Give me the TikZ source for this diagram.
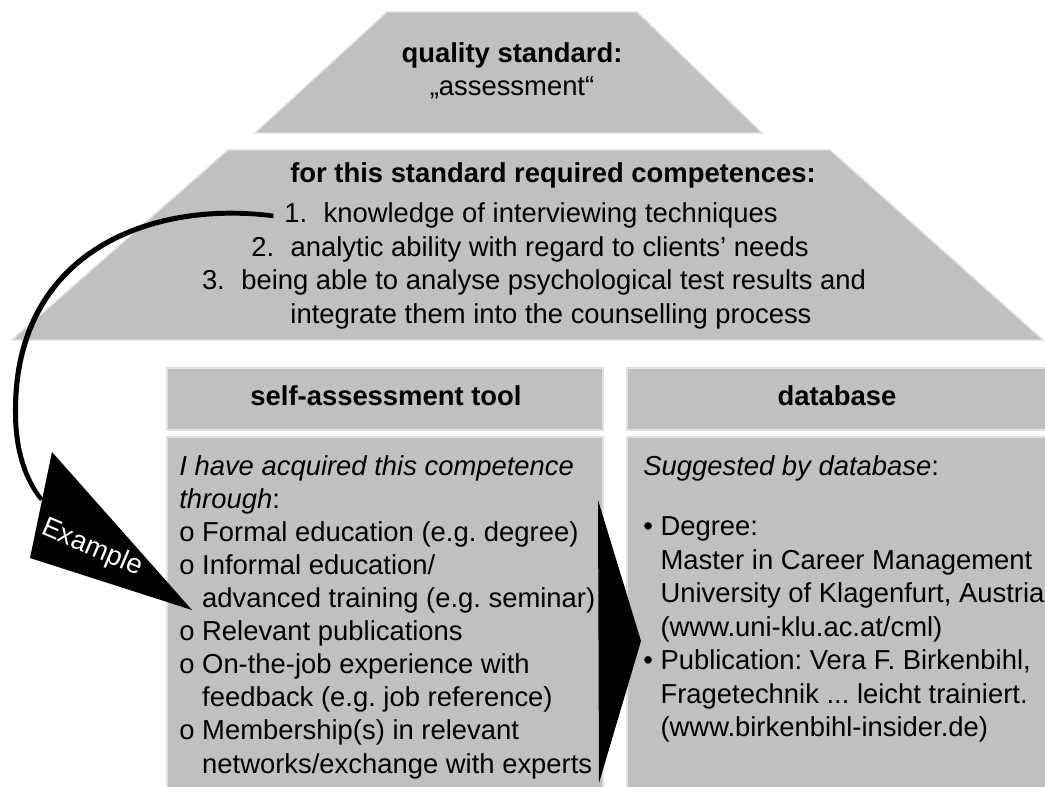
\documentclass[tikz,border=0pt]{standalone}
\usepackage{fontspec}
\setmainfont{Liberation Sans}
\usetikzlibrary{positioning}
\definecolor{silver}{RGB}{192, 192, 192}
\definecolor{cloud}{RGB}{224, 224, 224}
\newcommand{\diagfont}{\fontsize{15.6pt}{18.8pt}\selectfont\frenchspacing}

\begin{document}
\begin{tikzpicture}[x=0.02cm, y=-0.02cm,
        panel/.style={fill=silver, draw=cloud, line width=0.8pt},
        txt/.style={inner sep=0pt, font=\diagfont},
        hdr/.style={inner sep=0pt, font=\diagfont\bfseries}]
    \clip (0,0) rectangle (1045,787);
    \fill[white] (0,0) rectangle (1045,787);
    % roof: standard and competences
    \filldraw[panel] (387, 12) -- (637, 12) -- ( 762,133) -- (255,133) -- cycle;
    \filldraw[panel] (228,150) -- (830,150) -- (1043,340) -- ( 12,340) -- cycle;
    % pillars: tool and database
    \filldraw[panel] (167,368) rectangle ( 603,430);
    \filldraw[panel] (627,368) rectangle (1060,430);
    \filldraw[panel] (167,437) rectangle ( 603,800);
    \filldraw[panel] (627,437) rectangle (1060,800);

    \node[hdr, anchor=base] (qtitle) at (512, 63) {quality standard:};
    \node[txt, anchor=base] (qname)  at (512, 96) {„assessment“};

    \node[hdr, anchor=base] (ctitle) at (553,183) {for this standard required competences:};
    \node[txt, anchor=base] (comp1)  at (531,223) {1.\hspace{0.6em}knowledge of interviewing techniques};
    \node[txt, anchor=base] (comp2)  at (530,257) {2.\hspace{0.6em}analytic ability with regard to clients' needs};
    \node[txt, anchor=base] (comp3)  at (534,290) {3.\hspace{0.6em}being able to analyse psychological test results and};
    \node[txt, anchor=base] (comp4)  at (551,323) {integrate them into the counselling process};

    \node[hdr, anchor=base] (toolhdr) at (386,405) {self-assessment tool};
    \node[hdr, anchor=base] (dbhdr)   at (837,405) {database};

    \foreach \itm [count=\i] in {
            {\textit{I have acquired this competence}},
            {\textit{through}:},
            {o Formal education (e.g. degree)},
            {o Informal education/},
            {\hphantom{o }advanced training (e.g. seminar)},
            {o Relevant publications},
            {o On-the-job experience with},
            {\hphantom{o }feedback (e.g. job reference)},
            {o Membership(s) in relevant},
            {\hphantom{o }networks/exchange with experts}}
        \node[txt, anchor=base west] (tool\i) at (179, 442+33.1*\i) {\itm};

    \node[txt, anchor=base west] (dbintro) at (643,475) {\textit{Suggested by database}:};
    \foreach \itm [count=\i] in {
            {• Degree:},
            {\hphantom{• }Master in Career Management},
            {\hphantom{• }University of Klagenfurt, Austria},
            {\hphantom{• }(www.uni-klu.ac.at/cml)},
            {• Publication: Vera F. Birkenbihl,},
            {\hphantom{• }Fragetechnik .{}.{}. leicht trainiert.},
            {\hphantom{• }(www.birkenbihl-insider.de)}}
        \node[txt, anchor=base west] (db\i) at (643, 502+33.5*\i) {\itm};

    % example arrow from competence 1 down to the tool
    \fill ([xshift=-6pt,yshift=1.3pt]comp1.west) .. controls (150,197) and (11,250) .. (13,413)
          .. controls (13,452) and (24,482) .. (40,501) -- (43,498)
          .. controls (28,479) and (18,450) .. (18,413)
          .. controls (17,254) and (150,203) .. ([xshift=-6pt,yshift=-1.3pt]comp1.west) -- cycle;
    \fill (52,452) -- (192,610) -- (30,558) -- cycle;
    \node[txt, text=white, rotate=-23] (exlabel) at (92,548) {Example};
    % arrow from tool to database
    \fill (598,500) -- (641,641) -- (599,783) -- cycle;
\end{tikzpicture}
\end{document}
